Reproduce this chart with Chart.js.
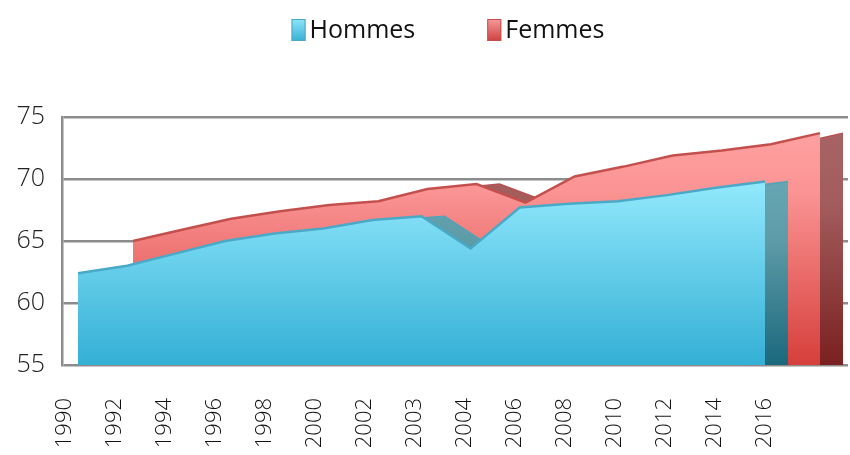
<!DOCTYPE html>
<html>
<head>
<meta charset="utf-8">
<script src="https://cdn.jsdelivr.net/npm/chart.js@4.4.0/dist/chart.umd.min.js"></script>
<style>
html, body { margin: 0; padding: 0; background: #fff; }
</style>
</head>
<body>
<canvas id="graficoEsperance" width="850" height="455"></canvas>
<script>
var annees = ['1990', '1992', '1994', '1996', '1998', '2000', '2002', '2003', '2004', '2006', '2008', '2010', '2012', '2014', '2016'];
var hommes = [62.4, 63.0, 64.0, 65.0, 65.6, 66.0, 66.7, 67.0, 64.4, 67.7, 68.0, 68.2, 68.7, 69.3, 69.8];
var femmes = [65.0, 65.9, 66.8, 67.4, 67.9, 68.2, 69.2, 69.6, 68.1, 70.2, 71.0, 71.9, 72.3, 72.8, 73.7];
var echelle = { min: 55, max: 75, pas: 5 };

var police = '"Open Sans", "DejaVu Sans", sans-serif';

function Points(valeurs) {
    return valeurs.map(function (v, i) { return { x: i, y: v }; });
}

function Degrade(stops) {
    return function (context) {
        var area = context.chart.chartArea;
        if (!area) return stops[0][1];
        var g = context.chart.ctx.createLinearGradient(0, area.top, 0, area.bottom);
        stops.forEach(function (s) { g.addColorStop(s[0], s[1]); });
        return g;
    };
}

// petite légende dessinée à la main (espacement large comme dans Excel)
var legende = {
    id: 'legende',
    afterDraw: function (chart) {
        var ctx = chart.ctx;
        var items = chart.data.datasets.filter(function (d) { return d.boite; });
        ctx.save();
        ctx.font = '25px ' + police;
        var largeurs = items.map(function (d) { return 18 + ctx.measureText(d.label).width; });
        var total = largeurs.reduce(function (a, b) { return a + b; }, 0) + 72 * (items.length - 1);
        var x = 448 - total / 2;
        items.forEach(function (d, i) {
            var g = ctx.createLinearGradient(0, 19, 0, 41);
            g.addColorStop(0, d.boite[0]);
            g.addColorStop(1, d.boite[1]);
            ctx.fillStyle = g;
            ctx.fillRect(x, 19, 14, 22);
            ctx.strokeStyle = d.borderColor;
            ctx.lineWidth = 1;
            ctx.strokeRect(x + 0.5, 19.5, 13, 21);
            ctx.fillStyle = '#111';
            ctx.textBaseline = 'middle';
            ctx.textAlign = 'left';
            ctx.fillText(d.label, x + 18, 31);
            x += largeurs[i] + 72;
        });
        ctx.restore();
    }
};

var ctx = document.getElementById('graficoEsperance').getContext('2d');

var grafico = new Chart(ctx, {
    type: 'line',
    data: {
        datasets: [
            {
                label: 'Hommes',
                xAxisID: 'xH',
                data: Points(hommes),
                fill: 'start',
                borderColor: '#4aa9c7',
                borderWidth: 2.5,
                backgroundColor: Degrade([[0, '#a0f2ff'], [0.3, '#8de6fa'], [1, '#34afd5']]),
                boite: ['#8fe5f8', '#38b0d4'],
                pointRadius: 0
            },
            {
                label: 'Hommes profondeur',
                xAxisID: 'xHp',
                data: Points(hommes),
                fill: 'start',
                borderColor: '#4fa3b6',
                borderWidth: 1.5,
                backgroundColor: Degrade([[0, '#70b2c0'], [0.5, '#5d9ba7'], [1, '#1b687d']]),
                pointRadius: 0
            },
            {
                label: 'Femmes',
                xAxisID: 'xF',
                data: Points(femmes),
                fill: 'start',
                borderColor: '#c4504d',
                borderWidth: 2.5,
                backgroundColor: Degrade([[0, '#ffa3a3'], [0.3, '#fb9494'], [1, '#d63f3b']]),
                boite: ['#f59a9a', '#d04040'],
                pointRadius: 0
            },
            {
                label: 'Femmes profondeur',
                xAxisID: 'xFp',
                data: Points(femmes),
                fill: 'start',
                borderColor: '#b85050',
                borderWidth: 1.5,
                backgroundColor: Degrade([[0, '#a86565'], [0.35, '#a35c5c'], [1, '#7a2020']]),
                pointRadius: 0
            }
        ]
    },
    options: {
        responsive: false,
        animation: false,
        layout: { padding: { top: 117, right: 2, left: 0, bottom: 0 } },
        plugins: {
            legend: { display: false },
            tooltip: { enabled: false }
        },
        scales: {
            xH: { type: 'linear', display: false, min: -0.326, max: 15.691 },
            xHp: { type: 'linear', display: false, min: -0.795, max: 15.222 },
            xF: { type: 'linear', display: false, min: -1.447, max: 14.571 },
            xFp: { type: 'linear', display: false, min: -1.916, max: 14.102 },
            xA: {
                type: 'linear',
                position: 'bottom',
                min: -0.06,
                max: 15.66,
                grid: { display: false },
                border: { display: false },
                afterBuildTicks: function (axis) {
                    axis.ticks = annees.map(function (a, i) { return { value: i }; });
                },
                afterFit: function (axis) { axis.height = 90; },
                ticks: {
                    autoSkip: false,
                    minRotation: 90,
                    maxRotation: 90,
                    padding: 25,
                    color: '#111',
                    font: { family: police, size: 22, weight: '300' },
                    callback: function (v) { return annees[v]; }
                }
            },
            y: {
                min: echelle.min,
                max: echelle.max,
                afterFit: function (axis) { axis.width = 62; },
                grid: { color: '#8c8c8c', lineWidth: 2.5, drawTicks: false },
                border: { display: true, color: '#8c8c8c', width: 2.5 },
                ticks: {
                    stepSize: echelle.pas,
                    padding: 17,
                    color: '#222',
                    font: { family: police, size: 25, weight: '300' }
                }
            }
        }
    },
    plugins: [legende]
});
</script>
</body>
</html>
